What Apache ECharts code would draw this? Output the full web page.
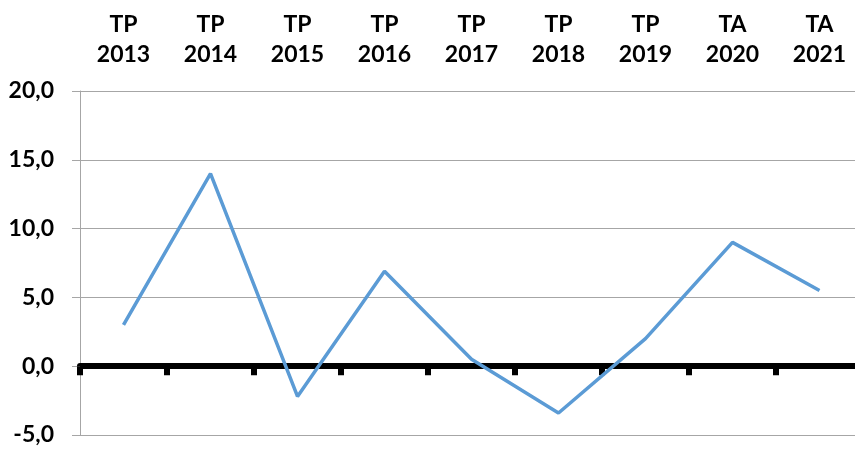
<!DOCTYPE html>
<html>
<head>
<meta charset="utf-8">
<script src="https://cdn.jsdelivr.net/npm/echarts@6/dist/echarts.min.js"></script>
<style>
  html, body { margin: 0; padding: 0; background: #fff; }
  #main { width: 855px; height: 450px; }
</style>
</head>
<body>
<div id="main"></div>
<script>
var categories = ['TP\n2013', 'TP\n2014', 'TP\n2015', 'TP\n2016', 'TP\n2017', 'TP\n2018', 'TP\n2019', 'TA\n2020', 'TA\n2021'];
var values = [3.0, 14.0, -2.2, 6.9, 0.5, -3.4, 2.0, 9.0, 5.5];
var yTicks = { min: -5, max: 20, interval: 5 };

var myChart = echarts.init(document.getElementById('main'));
var option = {
    animation: false,
    backgroundColor: '#fff',
    grid: { left: 80, right: -8, top: 91, bottom: 15, outerBoundsMode: 'none' },
    xAxis: [
        {
            // labels on top
            type: 'category',
            data: categories,
            position: 'top',
            axisLine: { show: false, onZero: false },
            axisTick: { show: false },
            axisLabel: {
                margin: 21,
                fontFamily: 'Lato',
                fontWeight: 'bold',
                fontSize: 23,
                lineHeight: 30,
                color: '#000'
            }
        },
        {
            // thick zero line with ticks
            type: 'category',
            data: categories,
            position: 'bottom',
            axisLine: { onZero: true, onZeroAxisIndex: 0, lineStyle: { color: '#000', width: 6 } },
            axisTick: { show: true, length: 9, lineStyle: { color: '#000', width: 6 } },
            axisLabel: { show: false }
        }
    ],
    yAxis: {
        type: 'value',
        min: yTicks.min,
        max: yTicks.max,
        interval: yTicks.interval,
        axisLine: { show: true, onZero: false, lineStyle: { color: '#a6a6a6', width: 1 } },
        axisTick: { show: true, length: 8, lineStyle: { color: '#a6a6a6' } },
        splitLine: { lineStyle: { color: '#a6a6a6', width: 1 } },
        axisLabel: {
            margin: 26,
            fontFamily: 'Lato',
            fontWeight: 'bold',
            fontSize: 23,
            color: '#000',
            formatter: function (v) { return v.toFixed(1).replace('.', ','); }
        }
    },
    series: [{
        type: 'line',
        xAxisIndex: 1,
        data: values,
        symbol: 'none',
        lineStyle: { color: '#5b9bd5', width: 3.5 },
        z: 3
    }]
};
myChart.setOption(option);
</script>
</body>
</html>
